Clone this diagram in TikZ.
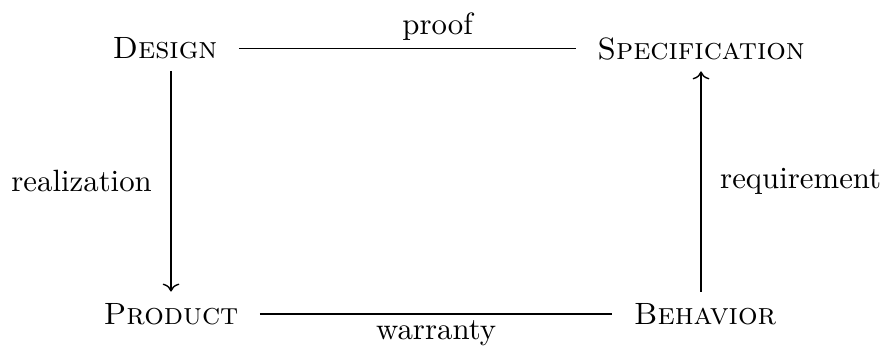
\documentclass[tikz,border=0pt]{standalone}
\usetikzlibrary{arrows.meta}
\tikzset{
  term/.style={inner xsep=6.8pt, inner ysep=3.6pt, font=\scshape},
  conn/.style={line width=0.45pt},
  lab/.style={font=\normalsize}
}
\begin{document}
\begin{tikzpicture}[x=0.3247pt, y=-0.3247pt]
\useasboundingbox (0,0) rectangle (885,347);
\node[term] (design) at (165,48.5) {Design};
\node[term] (spec) at (701,48.5) {Specification};
\node[term] (product) at (171,314) {Product};
\node[term] (behavior) at (705,314) {Behavior};
\draw[conn] (design.east) -- node[lab, pos=0.59, above, inner sep=2.3pt] (lproof) {proof} (spec.west);
\draw[conn] (product.east) -- node[lab, midway, below, inner sep=1.8pt] (lwarr) {warranty} (behavior.west);
\draw[conn,->] (product.north |- design.south) -- node[lab, midway, left, inner sep=6pt] (lreal) {realization} (product.north);
\draw[conn,->] (spec.south |- behavior.north) -- node[lab, midway, right, inner sep=6pt] (lreq) {requirement} (spec.south);
\end{tikzpicture}
\end{document}
